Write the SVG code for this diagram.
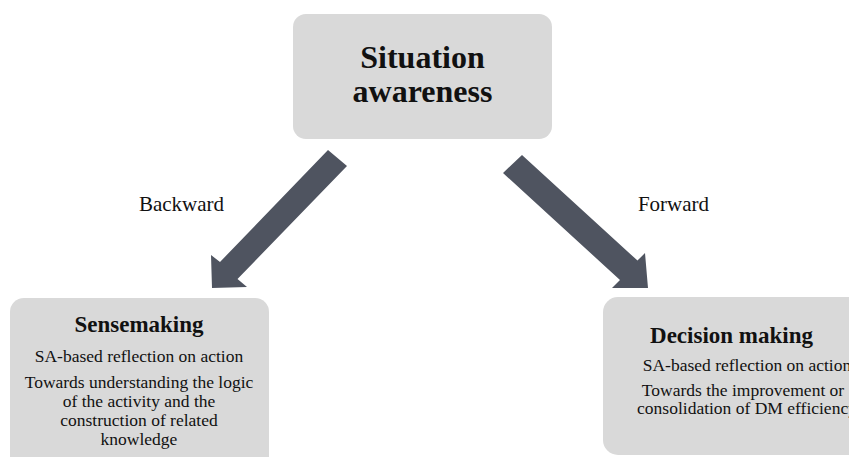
<svg xmlns="http://www.w3.org/2000/svg" width="849" height="457" viewBox="0 0 849 457">
<style>
.box{fill:#d9d9d9;}
.arrow{fill:#4f5460;}
text{font-family:"Liberation Serif","DejaVu Serif",serif;fill:#111;text-anchor:middle;font-style:normal;}
.title{font-size:32px;font-weight:bold;}
.head{font-size:23px;font-weight:bold;}
.body{font-size:17.5px;font-weight:normal;}
.lbl{font-size:21px;font-weight:normal;}
</style>
<rect width="849" height="457" fill="#ffffff"/>
<g id="connectors">
<polygon class="arrow" points="328,150 347,166 237.5,279 247,287 212,288 211,255 220,262"/>
<polygon class="arrow" points="522,155 503,173 620,280 612,288 648,288 645,253 637.5,260.6"/>
<text class="lbl" x="181.5" y="211">Backward</text>
<text class="lbl" x="673.5" y="211">Forward</text>
</g>
<g id="situation-awareness">
<rect class="box" x="293" y="14" width="259" height="125" rx="13"/>
<text class="title" x="422.5" y="68">Situation</text>
<text class="title" x="422.5" y="102">awareness</text>
</g>
<g id="sensemaking">
<rect class="box" x="10" y="298" width="259" height="175" rx="14"/>
<text class="head" x="139" y="332">Sensemaking</text>
<text class="body" x="139" y="362">SA-based reflection on action</text>
<text class="body" x="139" y="388">Towards understanding the logic</text>
<text class="body" x="139" y="407">of the activity and the</text>
<text class="body" x="139" y="426">construction of related</text>
<text class="body" x="139" y="445">knowledge</text>
</g>
<g id="decision-making">
<rect class="box" x="603" y="297" width="290" height="158" rx="15"/>
<text class="head" x="731.5" y="343">Decision making</text>
<text class="body" x="747" y="371">SA-based reflection on action</text>
<text class="body" x="743" y="396">Towards the improvement or</text>
<text class="body" x="747" y="414">consolidation of DM efficiency</text>
</g>
</svg>
